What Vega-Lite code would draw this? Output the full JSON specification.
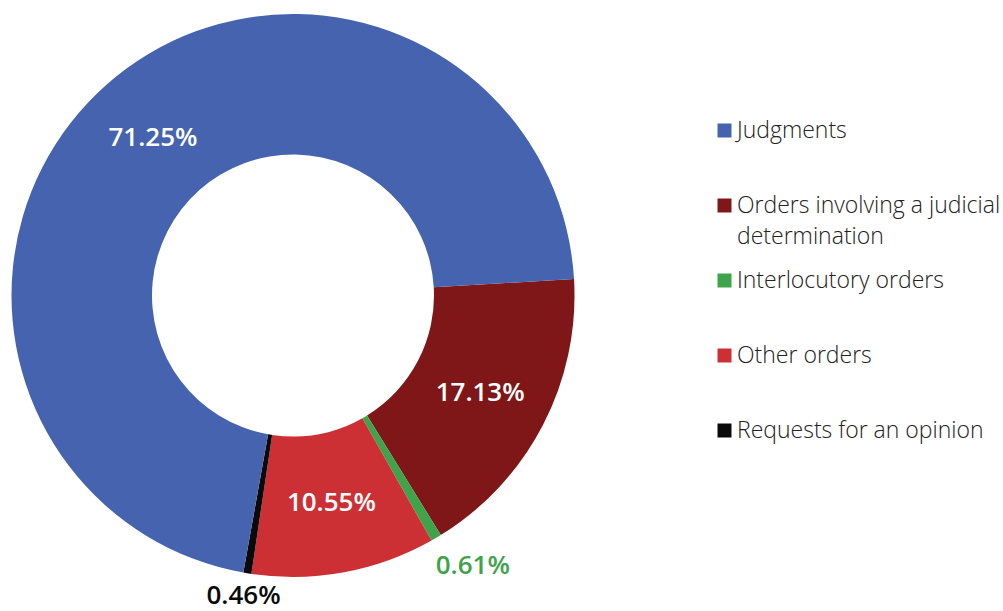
{
  "$schema": "https://vega.github.io/schema/vega-lite/v6.json",
  "width": 586,
  "height": 591,
  "padding": 0,
  "background": "white",
  "config": {"view": {"stroke": null}, "font": "Open Sans"},
  "data": {
    "values": [
      {"category": "Orders involving a judicial determination", "value": 17.13, "label": "17.13%", "order": 1},
      {"category": "Interlocutory orders", "value": 0.61, "label": "0.61%", "order": 2},
      {"category": "Other orders", "value": 10.55, "label": "10.55%", "order": 3},
      {"category": "Requests for an opinion", "value": 0.46, "label": "0.46%", "order": 4},
      {"category": "Judgments", "value": 71.25, "label": "71.25%", "order": 5}
    ]
  },
  "layer": [
    {
      "mark": {"type": "arc", "innerRadius": 141, "outerRadius": 281.5},
      "encoding": {
        "theta": {"field": "value", "type": "quantitative", "stack": true, "scale": {"range": [1.5125, 7.7957]}},
        "order": {"field": "order", "type": "quantitative"},
        "color": {
          "field": "category",
          "type": "nominal",
          "scale": {
            "domain": ["Judgments", "Orders involving a judicial determination", "Interlocutory orders", "Other orders", "Requests for an opinion"],
            "range": ["#4563AE", "#7F1718", "#3FA34A", "#CC3035", "#0A0A0A"]
          },
          "legend": {
            "title": null,
            "orient": "none",
            "legendX": 713,
            "legendY": 119,
            "padding": 0,
            "symbolType": "square",
            "symbolSize": 196,
            "symbolStrokeWidth": 0,
            "symbolOpacity": 1,
            "labelFont": "Open Sans",
            "labelFontSize": 23,
            "labelFontWeight": 300,
            "labelColor": "#222222",
            "labelLimit": 400,
            "labelOffset": 1,
            "rowPadding": 20,
            "labelExpr": "datum.label == 'Orders involving a judicial determination' ? ['Orders involving a judicial', 'determination'] : [datum.label, '']",
            "encode": {"labels": {"update": {"lineHeight": {"value": 31}}}}
          }
        }
      }
    },
    {
      "mark": {"type": "text", "radius": 211, "color": "white", "font": "Open Sans", "fontSize": 26, "fontWeight": 600},
      "encoding": {
        "theta": {"field": "value", "type": "quantitative", "stack": true},
        "order": {"field": "order", "type": "quantitative"},
        "text": {"condition": {"test": "datum.value > 5", "field": "label"}, "value": ""}
      }
    },
    {
      "mark": {"type": "text", "radius": 318, "dx": 18, "dy": -3, "color": "#3FA34A", "font": "Open Sans", "fontSize": 26, "fontWeight": 600},
      "encoding": {
        "theta": {"field": "value", "type": "quantitative", "stack": true},
        "order": {"field": "order", "type": "quantitative"},
        "text": {"condition": {"test": "datum.category == 'Interlocutory orders'", "field": "label"}, "value": ""}
      }
    },
    {
      "mark": {"type": "text", "radius": 305, "color": "#0A0A0A", "font": "Open Sans", "fontSize": 26, "fontWeight": 600},
      "encoding": {
        "theta": {"field": "value", "type": "quantitative", "stack": true},
        "order": {"field": "order", "type": "quantitative"},
        "text": {"condition": {"test": "datum.category == 'Requests for an opinion'", "field": "label"}, "value": ""}
      }
    }
  ]
}
